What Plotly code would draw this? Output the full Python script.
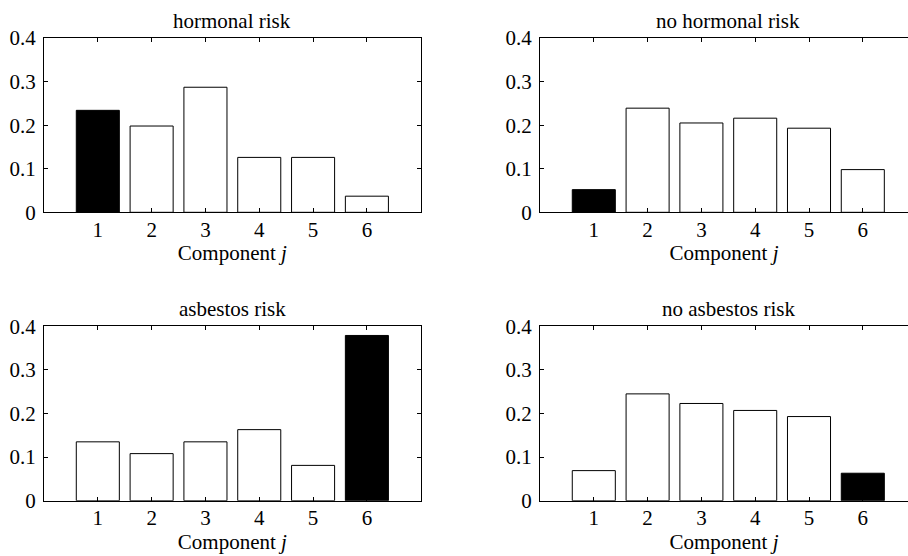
import plotly.graph_objects as go

components = [1, 2, 3, 4, 5, 6]
hormonal = [0.234, 0.198, 0.287, 0.126, 0.126, 0.037]
no_hormonal = [0.052, 0.239, 0.205, 0.216, 0.193, 0.098]
asbestos = [0.135, 0.108, 0.135, 0.163, 0.081, 0.379]
no_asbestos = [0.069, 0.245, 0.223, 0.207, 0.193, 0.063]
titles = ["hormonal risk", "no hormonal risk", "asbestos risk", "no asbestos risk"]
highlight = [1, 1, 6, 6]
series = [hormonal, no_hormonal, asbestos, no_asbestos]
ytick_vals = [0, 0.1, 0.2, 0.3, 0.4]
ytick_text = ["0", "0.1", "0.2", "0.3", "0.4"]

W, H = 908, 556
FONT = "Liberation Serif, Times New Roman, serif"
FS = 21

# pixel geometry of the panels
xdom_px = [(44, 420.7), (540, 908), (44, 420.7), (540, 908)]
ydom_px = [(38, 212.3), (38, 212.3), (326.3, 500.7), (326.3, 500.7)]
unit = 53.8  # px per component

fig = go.Figure()
for i in range(4):
    ax = "" if i == 0 else str(i + 1)
    colors = ["black" if c == highlight[i] else "white" for c in components]
    fig.add_trace(go.Bar(
        x=components, y=series[i], width=0.8,
        marker=dict(color=colors, line=dict(color="black", width=1)),
        xaxis="x" + ax, yaxis="y" + ax, showlegend=False,
    ))
    x0, x1 = xdom_px[i]
    y0, y1 = ydom_px[i]
    xmax = (x1 - x0) / unit
    right_cut = i in (1, 3)
    fig.update_layout(**{
        "xaxis" + ax: dict(
            domain=[x0 / W, x1 / W], range=[0, xmax if right_cut else 7],
            anchor="y" + ax, tickvals=components, ticks="inside", ticklen=4,
            tickwidth=1, tickcolor="black", showline=True, linecolor="black",
            linewidth=1, mirror="allticks", showgrid=False, zeroline=False,
            automargin=False,
            tickfont=dict(family=FONT, size=FS, color="black"),
            ticklabelstandoff=-2,
            title=dict(text="Component <i>j</i>", standoff=4,
                       font=dict(family=FONT, size=FS, color="black")),
        ),
        "yaxis" + ax: dict(
            domain=[1 - y1 / H, 1 - y0 / H], range=[0, 0.4],
            anchor="x" + ax, tickvals=ytick_vals, ticktext=ytick_text,
            ticks="inside", ticklen=4, tickwidth=1, tickcolor="black",
            showline=True, linecolor="black", linewidth=1,
            mirror=False if right_cut else "allticks",
            showgrid=False, zeroline=False, automargin=False,
            tickfont=dict(family=FONT, size=FS, color="black"),
            ticklabelstandoff=3,
        ),
    })
    fig.add_annotation(
        text=titles[i], x=(x0 + 3.5 * unit) / W,
        y=1 - (y0 - 17) / H, xref="paper", yref="paper",
        showarrow=False, font=dict(family=FONT, size=FS, color="black"),
        xanchor="center", yanchor="middle",
    )

fig.update_layout(
    template="simple_white",
    width=W, height=H, margin=dict(l=0, r=0, t=0, b=0, autoexpand=False),
    paper_bgcolor="white", plot_bgcolor="white", bargap=0.2,
    font=dict(family=FONT, size=FS, color="black"),
)
fig.write_html("out.html")
